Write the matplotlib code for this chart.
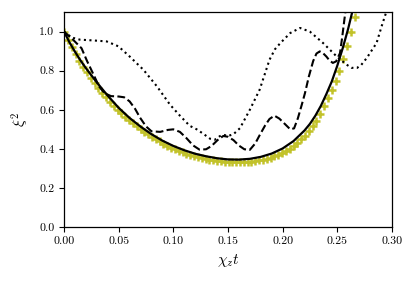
import matplotlib
matplotlib.use("Agg")
import matplotlib.pyplot as plt

plt.rcParams["font.family"] = "serif"
plt.rcParams["font.serif"] = ["cmr10"]
plt.rcParams["mathtext.fontset"] = "cm"
plt.rcParams["axes.formatter.use_mathtext"] = True

# ─── data ────────────────────────────────────────────────────────────────────
# theory (yellow + markers)
marker_t = [0, 0.0035, 0.007, 0.0105, 0.014, 0.0175, 0.021, 0.0245, 0.028, 0.0315,
            0.035, 0.0385, 0.042, 0.0455, 0.049, 0.0525, 0.056, 0.0595, 0.063, 0.0665,
            0.07, 0.0735, 0.077, 0.0805, 0.084, 0.0875, 0.091, 0.0945, 0.098, 0.1015,
            0.105, 0.1085, 0.112, 0.1155, 0.119, 0.1225, 0.126, 0.1295, 0.133, 0.1365,
            0.14, 0.1435, 0.147, 0.1505, 0.154, 0.1575, 0.161, 0.1645, 0.168, 0.1715,
            0.175, 0.1785, 0.182, 0.1855, 0.189, 0.1925, 0.196, 0.1995, 0.203, 0.2065,
            0.21, 0.2135, 0.217, 0.2205, 0.224, 0.2275, 0.231, 0.2345, 0.238, 0.2415,
            0.245, 0.2485, 0.252, 0.2555, 0.259, 0.2625, 0.266, 0.2695]
marker_xi = [1.000, 0.958, 0.920, 0.885, 0.852, 0.821, 0.792, 0.764, 0.737, 0.712,
             0.688, 0.664, 0.642, 0.621, 0.601, 0.582, 0.564, 0.547, 0.531, 0.516,
             0.501, 0.488, 0.474, 0.461, 0.449, 0.438, 0.427, 0.417, 0.407, 0.398,
             0.391, 0.383, 0.376, 0.370, 0.364, 0.358, 0.353, 0.349, 0.345, 0.342,
             0.339, 0.337, 0.335, 0.333, 0.332, 0.331, 0.331, 0.332, 0.333, 0.335,
             0.338, 0.341, 0.345, 0.350, 0.355, 0.362, 0.370, 0.379, 0.389, 0.401,
             0.414, 0.430, 0.449, 0.468, 0.490, 0.515, 0.544, 0.578, 0.617, 0.658,
             0.700, 0.747, 0.800, 0.859, 0.926, 0.997, 1.074, 1.158]

# solid curve
solid_t = [0, 0.005, 0.01, 0.015, 0.02, 0.03, 0.04, 0.05, 0.06, 0.07, 0.08, 0.09,
           0.10, 0.11, 0.12, 0.13, 0.14, 0.15, 0.16, 0.17, 0.18, 0.19, 0.20, 0.21,
           0.22, 0.225, 0.23, 0.235, 0.24, 0.245, 0.25, 0.255, 0.26, 0.265, 0.27]
solid_xi = [1.000, 0.945, 0.897, 0.853, 0.813, 0.740, 0.672, 0.610, 0.558, 0.514,
            0.475, 0.442, 0.415, 0.393, 0.375, 0.362, 0.352, 0.346, 0.345, 0.349,
            0.359, 0.376, 0.402, 0.440, 0.494, 0.528, 0.570, 0.620, 0.680, 0.745,
            0.825, 0.915, 1.015, 1.130, 1.260]

# dashed curve
dashed_t = [0, 0.008, 0.016, 0.021, 0.027, 0.032, 0.037, 0.043, 0.050, 0.055,
            0.060, 0.065, 0.0695, 0.075, 0.080, 0.088, 0.095, 0.100, 0.106, 0.112,
            0.118, 0.124, 0.130, 0.135, 0.1405, 0.1457, 0.150, 0.155, 0.160, 0.165,
            0.170, 0.175, 0.179, 0.184, 0.188, 0.1925, 0.197, 0.2025, 0.207, 0.2105,
            0.214, 0.2175, 0.2205, 0.224, 0.228, 0.231, 0.234, 0.237, 0.240, 0.243,
            0.246, 0.249, 0.2525, 0.2545, 0.2565, 0.2586]
dashed_xi = [1.0, 0.96, 0.915, 0.85, 0.78, 0.72, 0.685, 0.670, 0.668, 0.664,
             0.643, 0.605, 0.560, 0.515, 0.490, 0.487, 0.497, 0.500, 0.487, 0.455,
             0.418, 0.396, 0.398, 0.415, 0.445, 0.466, 0.462, 0.445, 0.417, 0.398,
             0.395, 0.428, 0.470, 0.520, 0.553, 0.570, 0.555, 0.525, 0.500, 0.505,
             0.557, 0.625, 0.686, 0.770, 0.850, 0.888, 0.899, 0.890, 0.873, 0.852,
             0.840, 0.848, 0.89, 0.97, 1.06, 1.15]

# dotted curve
dotted_t = [0, 0.007, 0.0146, 0.027, 0.039, 0.0497, 0.060, 0.0726, 0.085, 0.097,
            0.106, 0.115, 0.1214, 0.128, 0.1336, 0.138, 0.1425, 0.146, 0.150, 0.155,
            0.161, 0.170, 0.179, 0.188, 0.193, 0.198, 0.207, 0.216, 0.225, 0.237,
            0.2495, 0.2586, 0.263, 0.268, 0.272, 0.277, 0.286, 0.2906, 0.2946, 0.296]
dotted_xi = [1.0, 0.97, 0.959, 0.955, 0.95, 0.925, 0.873, 0.805, 0.72, 0.626,
             0.57, 0.518, 0.500, 0.475, 0.452, 0.447, 0.465, 0.472, 0.466, 0.475,
             0.506, 0.60, 0.703, 0.856, 0.91, 0.942, 0.993, 1.019, 1.0, 0.942,
             0.873, 0.831, 0.815, 0.814, 0.83, 0.865, 0.942, 1.027, 1.096, 1.13]
# ─────────────────────────────────────────────────────────────────────────────

fig = plt.figure(figsize=(4.16, 2.82), dpi=100)
ax = fig.add_axes([0.154, 0.195, 0.788, 0.762])

ax.plot(marker_t, marker_xi, linestyle="none", marker="+", color="#c2c22a",
        markersize=6, markeredgewidth=1.8, zorder=1)
ax.plot(solid_t, solid_xi, "-", color="k", lw=1.6, zorder=3)
ax.plot(dashed_t, dashed_xi, "--", color="k", lw=1.5, zorder=3)
ax.plot(dotted_t, dotted_xi, ":", color="k", lw=1.5, zorder=3)

ax.set_xlim(0, 0.30)
ax.set_ylim(0, 1.1)
ax.set_xticks([0, 0.05, 0.10, 0.15, 0.20, 0.25, 0.30])
ax.set_xticklabels(["0.00", "0.05", "0.10", "0.15", "0.20", "0.25", "0.30"])
ax.set_yticks([0, 0.2, 0.4, 0.6, 0.8, 1.0])
ax.set_yticklabels(["0.0", "0.2", "0.4", "0.6", "0.8", "1.0"])
ax.tick_params(labelsize=8.5, length=3.5, width=0.8, direction="out")
for s in ax.spines.values():
    s.set_linewidth(0.9)

ax.set_xlabel(r"$\chi_z t$", fontsize=11)
ax.set_ylabel(r"$\xi^2$", fontsize=11, labelpad=6)

fig.savefig("out.png", dpi=100)
